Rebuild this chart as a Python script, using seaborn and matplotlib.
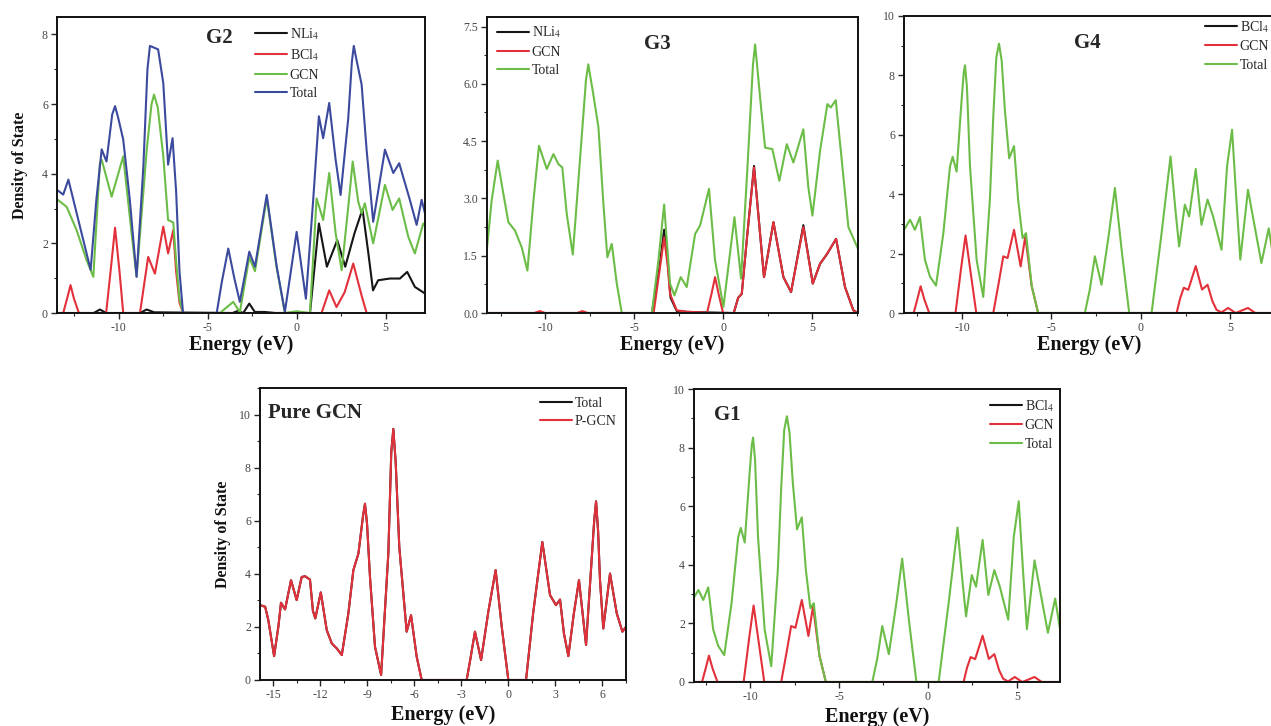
import numpy as np
import matplotlib
matplotlib.use('Agg')
import matplotlib.pyplot as plt
from matplotlib.ticker import MultipleLocator, FormatStrFormatter
import seaborn as sns

# ---- G2 panel (NLi4 + BCl4 co-doped) ----
g2_nli4_x = [-13.47, -11.4, -11.05, -10.7, -8.8, -8.42, -8.0, -3.6, -3.3, -3.0, -2.66, -2.35, -1.8, -1.2,
             0.75, 1.25, 1.7, 2.28, 2.73, 3.25, 3.7, 4.03, 4.29, 4.58, 5.24, 5.8, 6.21, 6.64, 7.21]
g2_nli4_y = [0.0, 0.0, 0.1, 0.0, 0.0, 0.1, 0.02, 0.0, 0.06, 0.0, 0.27, 0.03, 0.03, 0.0,
             0.0, 2.57, 1.33, 2.09, 1.33, 2.29, 2.98, 1.71, 0.65, 0.94, 0.99, 0.99, 1.18, 0.75, 0.56]
g2_bcl4_x = [-13.47, -13.11, -12.9, -12.7, -12.5, -12.23, -10.7, -10.45, -10.2, -9.95, -9.74,
             -8.8, -8.34, -7.96, -7.49, -7.22, -6.93, -6.77, -6.58, -6.38,
             1.4, 1.83, 2.24, 2.7, 3.18, 3.65, 3.93, 7.21]
g2_bcl4_y = [0.0, 0.0, 0.4, 0.8, 0.4, 0.0, 0.0, 1.2, 2.45, 1.2, 0.0,
             0.0, 1.61, 1.13, 2.48, 1.71, 2.38, 1.2, 0.3, 0.0,
             0.0, 0.65, 0.17, 0.6, 1.42, 0.5, 0.0, 0.0]
g2_gcn_x = [-13.47, -12.92, -12.36, -11.8, -11.42, -11.05, -10.95, -10.39, -9.74, -9.27, -8.99,
            -8.42, -8.15, -8.01, -7.8, -7.49, -7.22, -6.93, -6.77, -6.58, -6.38,
            -4.31, -3.56, -3.19, -2.66, -2.34, -1.68, -1.12, -0.66, 0.0, 0.75,
            1.12, 1.49, 1.83, 2.19, 2.53, 2.9, 3.15, 3.46, 3.65, 3.83, 4.3, 4.96, 5.39, 5.76,
            6.27, 6.64, 7.11, 7.21]
g2_gcn_y = [3.27, 3.05, 2.38, 1.52, 1.04, 4.3, 4.4, 3.34, 4.5, 2.29, 1.04,
            4.69, 6.0, 6.27, 5.9, 4.5, 2.67, 2.6, 1.5, 0.4, 0.0,
            0.0, 0.32, 0.02, 1.6, 1.2, 3.3, 1.3, 0.0, 0.05, 0.0,
            3.29, 2.67, 4.02, 2.29, 1.23, 3.05, 4.35, 3.2, 2.86, 3.15, 2.0, 3.68, 2.96, 3.29,
            2.19, 1.71, 2.57, 2.5]
g2_total_x = [-13.47, -13.11, -12.82, -12.17, -11.57, -11.25, -10.95, -10.68, -10.36, -10.2, -10.02,
              -9.74, -9.37, -8.99, -8.61, -8.38, -8.24, -7.78, -7.49, -7.22, -6.97, -6.77, -6.58,
              -6.38, -4.49, -4.2, -3.84, -3.5, -3.19, -2.66, -2.34, -1.68, -1.12, -0.66, 0.0,
              0.52, 0.93, 1.25, 1.49, 1.83, 2.19, 2.47, 2.9, 3.1, 3.21, 3.35, 3.65, 3.93, 4.3,
              4.96, 5.43, 5.76, 6.36, 6.74, 7.02, 7.21]
g2_total_y = [3.54, 3.4, 3.83, 2.48, 1.24, 3.25, 4.7, 4.35, 5.7, 5.94, 5.6,
              4.98, 3.25, 1.04, 4.2, 7.0, 7.67, 7.57, 6.6, 4.26, 5.02, 3.5, 1.2,
              0.0, 0.0, 0.9, 1.85, 1.0, 0.32, 1.76, 1.33, 3.39, 1.33, 0.03, 2.33,
              0.41, 3.25, 5.65, 5.02, 6.03, 4.4, 3.39, 5.6, 7.2, 7.67, 7.3, 6.56, 4.69, 2.62,
              4.69, 4.02, 4.3, 3.25, 2.53, 3.25, 2.86]

# ---- G3 panel (NLi4 doped) ----
g3_nli4_x = [-13.26, -4.0, -3.6, -3.31, -3.1, -2.95, -2.6, -2.0, -1.3, 0.6, 0.85, 1.05, 1.35, 1.74,
             2.08, 2.3, 2.83, 3.39, 3.82, 4.51, 5.04, 5.45, 5.82, 6.35, 6.85, 7.32, 7.58]
g3_nli4_y = [0.0, 0.0, 1.1, 2.18, 1.3, 0.4, 0.05, 0.03, 0.02, 0.0, 0.4, 0.5, 2.0, 3.85,
             2.07, 0.94, 2.38, 0.94, 0.55, 2.3, 0.77, 1.29, 1.53, 1.94, 0.68, 0.07, 0.0]
g3_gcn_x = [-13.26, -10.6, -10.3, -10.0, -8.2, -7.9, -7.6, -3.9, -3.6, -3.31, -3.1, -2.98, -2.6, -2.0,
            -1.3, -0.9, -0.65, -0.45, -0.25, 0.0, 0.6, 0.85, 1.05, 1.35, 1.74, 2.08, 2.3, 2.83,
            3.39, 3.82, 4.51, 5.04, 5.45, 5.82, 6.35, 6.85, 7.32, 7.58]
g3_gcn_y = [0.0, 0.0, 0.05, 0.0, 0.0, 0.05, 0.0, 0.0, 1.0, 1.98, 1.2, 0.5, 0.07, 0.03,
            0.02, 0.0, 0.5, 0.94, 0.5, 0.0, 0.0, 0.4, 0.5, 2.0, 3.81, 2.07, 0.94, 2.38,
            0.94, 0.55, 2.25, 0.77, 1.29, 1.53, 1.94, 0.68, 0.07, 0.0]
g3_total_x = [-13.26, -13.0, -12.66, -12.34, -12.06, -11.69, -11.31, -10.99, -10.65, -10.34, -9.9,
              -9.53, -9.25, -9.03, -8.78, -8.44, -8.07, -7.7, -7.57, -7.29, -7.0, -6.72, -6.5, -6.25,
              -5.97, -5.69, -4.0, -3.63, -3.31, -2.98, -2.73, -2.38, -2.04, -1.57, -1.29, -0.79,
              -0.45, 0.02, 0.64, 1.01, 1.37, 1.68, 1.8, 1.93, 2.08, 2.36, 2.77, 3.16, 3.58, 3.95,
              4.51, 4.79, 5.02, 5.45, 5.86, 6.05, 6.33, 6.67, 7.04, 7.58]
g3_total_y = [1.7, 2.94, 3.99, 3.12, 2.38, 2.16, 1.72, 1.11, 2.94, 4.38, 3.77,
              4.16, 3.9, 3.81, 2.59, 1.53, 3.81, 6.1, 6.51, 5.73, 4.86, 2.85, 1.46, 1.81,
              0.77, 0.0, 0.0, 1.38, 2.84, 0.77, 0.46, 0.94, 0.68, 2.07, 2.29, 3.25,
              1.38, 0.16, 2.51, 0.9, 3.81, 6.5, 7.03, 6.4, 5.64, 4.33, 4.29, 3.46, 4.42, 3.94,
              4.81, 3.29, 2.55, 4.25, 5.47, 5.38, 5.57, 3.99, 2.25, 1.68]

# ---- G4 and G1 panels (BCl4 doped, same curves) ----
g1_bcl4_x = [-13.24, 7.5]
g1_bcl4_y = [0.0, 0.0]
g1_gcn_x = [-13.24, -12.7, -12.5, -12.31, -12.1, -11.83, -10.36, -10.05, -9.8, -9.5, -9.2, -8.25,
            -7.95, -7.69, -7.45, -7.09, -6.72, -6.46, -6.1, -5.74, 2.0, 2.2, 2.4, 2.65, 3.07,
            3.42, 3.73, 4.0, 4.23, 4.5, 4.88, 5.3, 5.99, 6.4, 7.5]
g1_gcn_y = [0.0, 0.0, 0.45, 0.9, 0.45, 0.0, 0.0, 1.5, 2.61, 1.3, 0.0, 0.0,
            1.0, 1.91, 1.85, 2.8, 1.57, 2.58, 0.9, 0.0, 0.0, 0.5, 0.85, 0.78, 1.58,
            0.79, 0.95, 0.4, 0.11, 0.02, 0.17, 0.0, 0.17, 0.0, 0.0]
g1_total_x = [-13.24, -12.9, -12.63, -12.35, -12.07, -11.79, -11.45, -11.04, -10.67, -10.52, -10.3,
              -10.02, -9.9, -9.83, -9.72, -9.55, -9.18, -8.81, -8.44, -8.25, -8.08, -7.93, -7.78,
              -7.6, -7.36, -7.09, -6.86, -6.61, -6.42, -6.1, -5.74, -3.13, -2.85, -2.57, -2.2,
              -1.8, -1.45, -1.05, -0.65, 0.6, 1.16, 1.66, 1.95, 2.14, 2.46, 2.7, 3.07, 3.39, 3.73,
              4.04, 4.51, 4.82, 5.1, 5.34, 5.56, 5.99, 6.74, 7.15, 7.5]
g1_total_y = [2.8, 3.14, 2.8, 3.23, 1.79, 1.23, 0.92, 2.69, 4.93, 5.26, 4.76,
              7.17, 8.1, 8.34, 7.6, 4.93, 1.79, 0.54, 3.81, 6.61, 8.6, 9.07, 8.5,
              6.83, 5.21, 5.62, 3.81, 2.52, 2.69, 0.9, 0.0, 0.0, 0.8, 1.91, 0.95,
              2.6, 4.21, 2.0, 0.0, 0.0, 2.69, 5.27, 3.37, 2.24, 3.65, 3.25, 4.85, 2.97, 3.82,
              3.25, 2.13, 4.94, 6.17, 3.82, 1.8, 4.15, 1.68, 2.85, 1.5]

# ---- Pure GCN panel ----
pure_x = [-15.83, -15.5, -15.3, -14.93, -14.66, -14.49, -14.23, -13.85, -13.49, -13.17, -12.95,
          -12.64, -12.45, -12.3, -11.95, -11.57, -11.25, -10.93, -10.61, -10.19, -9.87, -9.55,
          -9.25, -9.13, -9.0, -8.81, -8.49, -8.1, -7.64, -7.45, -7.32, -7.17, -6.94, -6.47, -6.19,
          -5.83, -5.51, -2.64, -2.4, -2.11, -1.72, -1.25, -0.79, -0.4, 0.02, 1.15, 1.6, 2.19,
          2.68, 3.06, 3.32, 3.57, 3.85, 4.2, 4.53, 4.98, 5.5, 5.62, 5.75, 5.87, 6.08, 6.51,
          6.94, 7.3, 7.53]
pure_y = [2.82, 2.76, 2.26, 0.9, 2.0, 2.91, 2.66, 3.76, 3.01, 3.88, 3.91,
          3.78, 2.6, 2.32, 3.3, 1.88, 1.38, 1.19, 0.94, 2.51, 4.14, 4.76,
          6.2, 6.64, 5.9, 3.88, 1.25, 0.19, 4.76, 8.6, 9.46, 8.2, 5.01, 1.82, 2.44,
          0.88, 0.0, 0.0, 0.8, 1.82, 0.75, 2.6, 4.14, 2.0, 0.0, 0.0, 2.5, 5.2,
          3.2, 2.82, 3.03, 1.75, 0.9, 2.5, 3.76, 1.32, 6.0, 6.73, 5.6, 3.76, 1.94, 4.01,
          2.51, 1.82, 2.0]

BLACK = '#151515'
RED = '#e2313a'
GREEN = '#6cbd48'
BLUE = '#3c4a9e'

sns.set_theme(style='ticks')
plt.rcParams['font.family'] = ['Liberation Serif', 'DejaVu Serif']
plt.rcParams['mathtext.fontset'] = 'stix'
plt.rcParams['axes.unicode_minus'] = False

W, H = 1271, 726
fig = plt.figure(figsize=(W / 100, H / 100), dpi=100)
fig.patch.set_facecolor('white')


def make_axes(left, top, right, bottom):
    return fig.add_axes([left / W, 1 - bottom / H, (right - left) / W, (bottom - top) / H])


def style_axes(ax, xlim, ylim, xmaj, ymaj):
    ax.set_xlim(*xlim)
    ax.set_ylim(*ylim)
    ax.xaxis.set_major_locator(MultipleLocator(xmaj))
    ax.xaxis.set_minor_locator(MultipleLocator(xmaj / 2))
    ax.yaxis.set_major_locator(MultipleLocator(ymaj))
    ax.yaxis.set_minor_locator(MultipleLocator(ymaj / 2))
    ax.tick_params(which='major', direction='out', length=4.5, width=1.0, labelsize=8.5,
                   labelcolor='#444444', pad=2)
    ax.tick_params(which='minor', direction='out', length=2.5, width=0.8)
    for s in ax.spines.values():
        s.set_linewidth(1.4)
        s.set_color('#111111')
    ax.set_facecolor('white')
    ax.set_xlabel('Energy (eV)', fontsize=14.5, fontweight='bold', color='#111111')


def draw(ax, series):
    for xs, ys, col, lab in series:
        sns.lineplot(x=xs, y=ys, sort=False, estimator=None, color=col, lw=1.5, ax=ax, label=lab,
                     solid_joinstyle='round')


def legend(ax, x, y):
    ax.legend(loc='upper left', bbox_to_anchor=(x, y), frameon=False, fontsize=10,
              handlelength=2.3, handletextpad=0.2, labelspacing=0.4, borderpad=0, borderaxespad=0)


# G2
ax = make_axes(57, 17, 425, 313)
draw(ax, [(g2_nli4_x, g2_nli4_y, BLACK, 'NLi$_4$'), (g2_bcl4_x, g2_bcl4_y, RED, 'BCl$_4$'),
          (g2_gcn_x, g2_gcn_y, GREEN, 'GCN'), (g2_total_x, g2_total_y, BLUE, 'Total')])
style_axes(ax, (-13.46, 7.21), (0, 8.5), 5, 2)
ax.set_ylabel('Density of State', fontsize=11.5, fontweight='bold', color='#111111')
ax.yaxis.set_label_coords(-0.08, 0.5)
ax.xaxis.set_label_coords(0.5, -0.075)
ax.text(0.44, 0.93, 'G2', transform=ax.transAxes, fontsize=15, fontweight='bold', ha='center', va='center')
legend(ax, 0.538, 0.97)

# G3
ax = make_axes(487, 17, 858, 313)
draw(ax, [(g3_nli4_x, g3_nli4_y, BLACK, 'NLi$_4$'), (g3_gcn_x, g3_gcn_y, RED, 'GCN'),
          (g3_total_x, g3_total_y, GREEN, 'Total')])
style_axes(ax, (-13.26, 7.58), (0, 7.75), 5, 1.5)
ax.yaxis.set_major_formatter(FormatStrFormatter('%.1f'))
ax.set_ylabel('')
ax.xaxis.set_label_coords(0.5, -0.075)
ax.text(0.46, 0.91, 'G3', transform=ax.transAxes, fontsize=15, fontweight='bold', ha='center', va='center')
legend(ax, 0.027, 0.975)

# G4
ax = make_axes(904, 16, 1275, 313)
draw(ax, [(g1_bcl4_x, g1_bcl4_y, BLACK, 'BCl$_4$'), (g1_gcn_x, g1_gcn_y, RED, 'GCN'),
          (g1_total_x, g1_total_y, GREEN, 'Total')])
style_axes(ax, (-13.24, 7.5), (0, 10), 5, 2)
ax.set_ylabel('')
ax.xaxis.set_label_coords(0.5, -0.075)
ax.text(0.495, 0.91, 'G4', transform=ax.transAxes, fontsize=15, fontweight='bold', ha='center', va='center')
legend(ax, 0.811, 0.99)

# Pure GCN
ax = make_axes(260, 388, 626, 680)
draw(ax, [(pure_x, pure_y, BLACK, 'Total'), (pure_x, pure_y, RED, 'P-GCN')])
style_axes(ax, (-15.83, 7.53), (0, 11), 3, 2)
ax.set_ylabel('Density of State', fontsize=11.5, fontweight='bold', color='#111111')
ax.yaxis.set_label_coords(-0.08, 0.5)
ax.xaxis.set_label_coords(0.5, -0.085)
ax.text(0.022, 0.915, 'Pure GCN', transform=ax.transAxes, fontsize=15, fontweight='bold', ha='left', va='center')
legend(ax, 0.765, 0.97)

# G1
ax = make_axes(694, 389, 1060, 682)
draw(ax, [(g1_bcl4_x, g1_bcl4_y, BLACK, 'BCl$_4$'), (g1_gcn_x, g1_gcn_y, RED, 'GCN'),
          (g1_total_x, g1_total_y, GREEN, 'Total')])
style_axes(ax, (-13.15, 7.42), (0, 10), 5, 2)
ax.set_ylabel('')
ax.xaxis.set_label_coords(0.5, -0.085)
ax.text(0.055, 0.91, 'G1', transform=ax.transAxes, fontsize=15, fontweight='bold', ha='left', va='center')
legend(ax, 0.809, 0.97)

fig.savefig('out.png', dpi=100, facecolor='white')
